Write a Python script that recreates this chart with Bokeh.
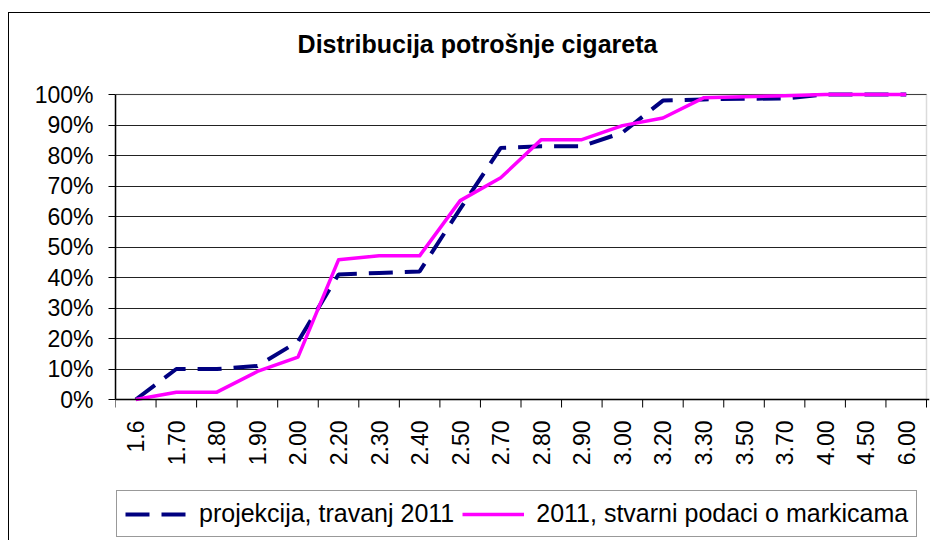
import math
from bokeh.plotting import figure
from bokeh.models import (Range1d, FixedTicker, NumeralTickFormatter, Legend, LegendItem,
                          Label, Span, BoxAnnotation)
from bokeh.core.properties import value
from bokeh.embed import file_html
from bokeh.resources import INLINE

categories = ["1.6", "1.70", "1.80", "1.90", "2.00", "2.20", "2.30", "2.40", "2.50", "2.70",
              "2.80", "2.90", "3.00", "3.20", "3.30", "3.50", "3.70", "4.00", "4.50", "6.00"]
projekcija = [0.0, 0.10, 0.10, 0.11, 0.19, 0.41, 0.415, 0.42, 0.625, 0.825,
              0.83, 0.83, 0.875, 0.98, 0.984, 0.986, 0.987, 1.0, 1.0, 1.0]
stvarni = [0.0, 0.024, 0.024, 0.092, 0.139, 0.458, 0.471, 0.471, 0.652, 0.727,
           0.852, 0.852, 0.898, 0.923, 0.989, 0.993, 0.996, 1.0, 1.0, 1.0]
y_ticks = [0.0, 0.1, 0.2, 0.3, 0.4, 0.5, 0.6, 0.7, 0.8, 0.9, 1.0]
title_text = "Distribucija potrošnje cigareta"
series_names = ["projekcija, travanj 2011", "2011, stvarni podaci o markicama"]

FONT = "Liberation Sans"

# layout constants (pixels)
FIG_W, FIG_H = 922, 528
PLOT_W, PLOT_H = 811, 305       # plot area size
PAD_LEFT = 106                  # figure left -> plot area left
PAD_TOP = 81                    # figure top -> plot area top
FRAME_W = FIG_W - PAD_LEFT - 2  # frame right edge leaves 2px
PX = PLOT_H                     # pixels per y unit

n = len(categories)
xc = [i + 0.5 for i in range(n)]
edges = list(range(n + 1))

x_end = n * FRAME_W / PLOT_W
y_top = 1 + PAD_TOP / PX
y_bot = -(FIG_H - PAD_TOP - PLOT_H) / PX

p = figure(width=FIG_W, height=FIG_H, output_backend="svg", toolbar_location=None,
           x_range=Range1d(0, x_end), y_range=Range1d(y_bot, y_top),
           x_axis_location=None,
           min_border_left=PAD_LEFT, min_border_right=2, min_border_top=0, min_border_bottom=0,
           background_fill_color="white", border_fill_color="white")
p.styles = {"margin-left": "8px", "margin-top": "12px",
            "border-left": "1px solid #000", "border-top": "1px solid #000"}
p.outline_line_color = None

# plot area border (gray top/right)
p.add_layout(BoxAnnotation(left=0, right=n, bottom=0, top=1, fill_alpha=0, fill_color=None,
                           line_color="#888888", line_width=1.5, level="underlay"))

# title
p.add_layout(Label(x=362, y=FIG_H - 30, x_units="screen", y_units="screen", text=title_text,
                   text_font=FONT, text_font_size="25px", text_font_style="bold",
                   text_color="black", text_align="center", text_baseline="middle"))

# grid
p.xgrid.grid_line_color = None
p.ygrid.ticker = FixedTicker(ticks=y_ticks)
p.ygrid.grid_line_color = "#222222"
p.ygrid.grid_line_width = 1
p.ygrid.cross_bounds = (0, n)

# y axis
p.yaxis.ticker = FixedTicker(ticks=y_ticks)
p.yaxis.bounds = (0, 1)
p.yaxis.formatter = NumeralTickFormatter(format="0%")
p.yaxis.major_label_text_font = FONT
p.yaxis.major_label_text_font_size = "23px"
p.yaxis.major_label_text_color = "black"
p.yaxis.major_tick_out = 7
p.yaxis.major_tick_in = 0
p.yaxis.minor_tick_line_color = None
p.yaxis.axis_line_color = "black"
p.yaxis.axis_line_width = 1.5
p.yaxis.major_tick_line_color = "black"
p.yaxis.major_label_standoff = 15

# x axis (drawn in the frame)
p.add_layout(Span(location=0, dimension="width", line_color="black", line_width=1.5))
p.segment(x0=edges, y0=[0] * (n + 1), x1=edges, y1=[-8 / PX] * (n + 1),
          line_color="black", line_width=1)
p.text(x=xc, y=[-21 / PX] * n, text=categories, angle=math.pi / 2,
       text_align="right", text_baseline="middle", text_font=value(FONT),
       text_font_size=value("23px"), text_color="black")

r1 = p.line(xc, projekcija, line_color="#000080", line_width=4, line_dash="24 12")
r2 = p.line(xc, stvarni, line_color="#FF00FF", line_width=3.5, line_join="round")

legend = Legend(items=[LegendItem(label=series_names[0], renderers=[r1]),
                       LegendItem(label=series_names[1], renderers=[r2])],
                orientation="horizontal", location=(1, 4),
                label_text_font=FONT, label_text_font_size="25px", label_text_color="black",
                glyph_width=62, glyph_height=20, label_standoff=12, spacing=8,
                padding=8, margin=0, border_line_color="#333333", border_line_width=1.5,
                background_fill_color="white")
p.add_layout(legend, "center")

open("out.html", "w").write(file_html(p, INLINE))
